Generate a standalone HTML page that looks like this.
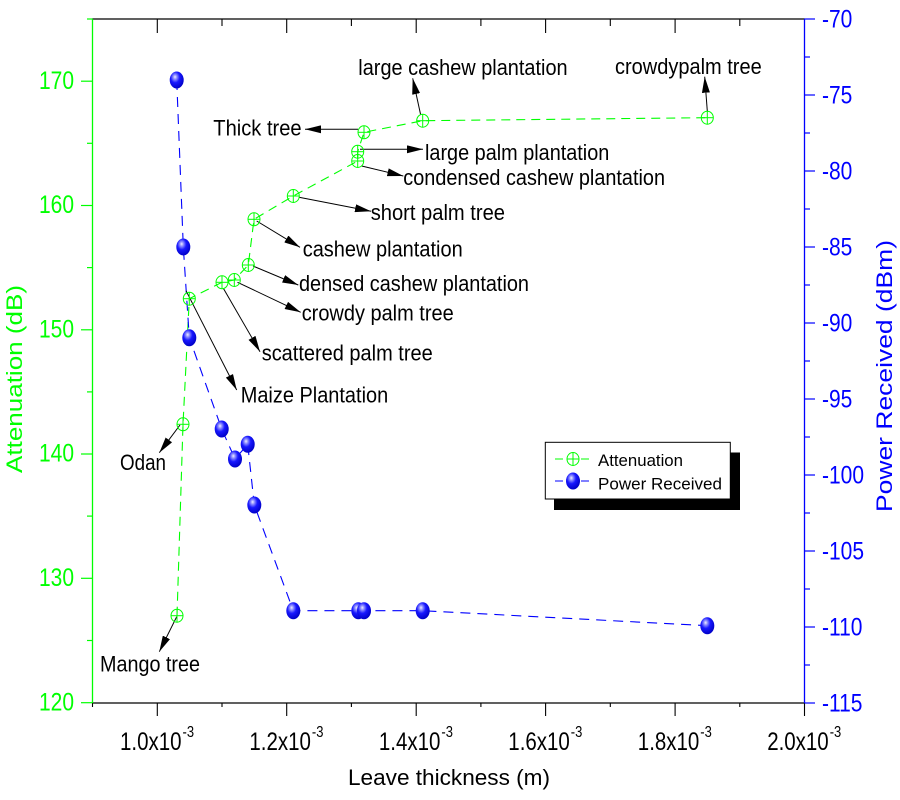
<!DOCTYPE html>
<html>
<head>
<meta charset="utf-8">
<style>
html,body{margin:0;padding:0;background:#fff;}
svg{display:block;}
text{font-family:"Liberation Sans",Arial,sans-serif;}
</style>
</head>
<body>
<svg width="900" height="800" viewBox="0 0 900 800" xmlns="http://www.w3.org/2000/svg">
<defs>
  <marker id="ah" viewBox="0 0 16 8" refX="16" refY="4" markerWidth="16" markerHeight="8" markerUnits="userSpaceOnUse" orient="auto">
    <path d="M0,0 L16,4 L0,8 z" fill="#000"/>
  </marker>
  <radialGradient id="sph" cx="0.4" cy="0.35" r="0.65" fx="0.38" fy="0.32">
    <stop offset="0" stop-color="#f0f0ff"/>
    <stop offset="0.2" stop-color="#9090ff"/>
    <stop offset="0.5" stop-color="#1818ff"/>
    <stop offset="1" stop-color="#0000c8"/>
  </radialGradient>
  <g id="att">
    <ellipse cx="0" cy="0" rx="6" ry="6.5" fill="none" stroke="#00ff00" stroke-width="1"/>
    <line x1="-6" y1="0" x2="6" y2="0" stroke="#00ff00" stroke-width="1"/>
    <line x1="0" y1="-6.5" x2="0" y2="6.5" stroke="#00ff00" stroke-width="1"/>
  </g>
  <g id="pw">
    <ellipse cx="0" cy="0" rx="7" ry="8.5" fill="url(#sph)"/>
  </g>
</defs>

<rect x="0" y="0" width="900" height="800" fill="#fff"/>

<!-- Axes -->
<line x1="92.5" y1="19" x2="804.5" y2="19" stroke="#000" stroke-width="1.2"/>
<line x1="92.5" y1="703" x2="804.5" y2="703" stroke="#000" stroke-width="1.2"/>
<line x1="92.5" y1="19" x2="92.5" y2="703" stroke="#00ff00" stroke-width="1.3"/>
<line x1="804.5" y1="19" x2="804.5" y2="703" stroke="#0000ff" stroke-width="1.3"/>

<!-- X ticks bottom & top -->
<g stroke="#000" stroke-width="1.1">
  <line x1="92.5" y1="703" x2="92.5" y2="707"/>
  <line x1="157.3" y1="703" x2="157.3" y2="716"/>
  <line x1="222" y1="703" x2="222" y2="707"/>
  <line x1="286.7" y1="703" x2="286.7" y2="716"/>
  <line x1="351.4" y1="703" x2="351.4" y2="707"/>
  <line x1="416.2" y1="703" x2="416.2" y2="716"/>
  <line x1="480.9" y1="703" x2="480.9" y2="707"/>
  <line x1="545.6" y1="703" x2="545.6" y2="716"/>
  <line x1="610.3" y1="703" x2="610.3" y2="707"/>
  <line x1="675.1" y1="703" x2="675.1" y2="716"/>
  <line x1="739.8" y1="703" x2="739.8" y2="707"/>
  <line x1="804.5" y1="703" x2="804.5" y2="716"/>

  <line x1="157.3" y1="19" x2="157.3" y2="33"/>
  <line x1="222" y1="19" x2="222" y2="26"/>
  <line x1="286.7" y1="19" x2="286.7" y2="33"/>
  <line x1="351.4" y1="19" x2="351.4" y2="26"/>
  <line x1="416.2" y1="19" x2="416.2" y2="33"/>
  <line x1="480.9" y1="19" x2="480.9" y2="26"/>
  <line x1="545.6" y1="19" x2="545.6" y2="33"/>
  <line x1="610.3" y1="19" x2="610.3" y2="26"/>
  <line x1="675.1" y1="19" x2="675.1" y2="33"/>
  <line x1="739.8" y1="19" x2="739.8" y2="26"/>
</g>

<!-- Left ticks -->
<g stroke="#00ff00" stroke-width="1.2">
  <line x1="81" y1="702.7" x2="92.5" y2="702.7"/>
  <line x1="87" y1="640.5" x2="92.5" y2="640.5"/>
  <line x1="81" y1="578.3" x2="92.5" y2="578.3"/>
  <line x1="87" y1="516.1" x2="92.5" y2="516.1"/>
  <line x1="81" y1="454" x2="92.5" y2="454"/>
  <line x1="87" y1="391.9" x2="92.5" y2="391.9"/>
  <line x1="81" y1="329.8" x2="92.5" y2="329.8"/>
  <line x1="87" y1="267.6" x2="92.5" y2="267.6"/>
  <line x1="81" y1="205.5" x2="92.5" y2="205.5"/>
  <line x1="87" y1="143.3" x2="92.5" y2="143.3"/>
  <line x1="81" y1="81.2" x2="92.5" y2="81.2"/>
  <line x1="87" y1="19" x2="92.5" y2="19"/>
</g>

<!-- Right ticks -->
<g stroke="#0000ff" stroke-width="1.2">
  <line x1="804.5" y1="19" x2="815" y2="19"/>
  <line x1="804.5" y1="57" x2="810" y2="57"/>
  <line x1="804.5" y1="95" x2="815" y2="95"/>
  <line x1="804.5" y1="133" x2="810" y2="133"/>
  <line x1="804.5" y1="171" x2="815" y2="171"/>
  <line x1="804.5" y1="209" x2="810" y2="209"/>
  <line x1="804.5" y1="247" x2="815" y2="247"/>
  <line x1="804.5" y1="285" x2="810" y2="285"/>
  <line x1="804.5" y1="323" x2="815" y2="323"/>
  <line x1="804.5" y1="361" x2="810" y2="361"/>
  <line x1="804.5" y1="399" x2="815" y2="399"/>
  <line x1="804.5" y1="437" x2="810" y2="437"/>
  <line x1="804.5" y1="475" x2="815" y2="475"/>
  <line x1="804.5" y1="513" x2="810" y2="513"/>
  <line x1="804.5" y1="551" x2="815" y2="551"/>
  <line x1="804.5" y1="589" x2="810" y2="589"/>
  <line x1="804.5" y1="627" x2="815" y2="627"/>
  <line x1="804.5" y1="665" x2="810" y2="665"/>
  <line x1="804.5" y1="703" x2="815" y2="703"/>
</g>

<!-- Left tick labels -->
<g fill="#00ff00" font-size="21" text-anchor="end">
  <text transform="translate(74,710.3) scale(1,1.2)">120</text>
  <text transform="translate(74,585.9) scale(1,1.2)">130</text>
  <text transform="translate(74,461.6) scale(1,1.2)">140</text>
  <text transform="translate(74,337.4) scale(1,1.2)">150</text>
  <text transform="translate(74,213.1) scale(1,1.2)">160</text>
  <text transform="translate(74,88.8) scale(1,1.2)">170</text>
</g>

<!-- Right tick labels -->
<g fill="#0000ff" font-size="21">
  <text transform="translate(822,27.5) scale(1,1.2)">-70</text>
  <text transform="translate(822,103.5) scale(1,1.2)">-75</text>
  <text transform="translate(822,179.5) scale(1,1.2)">-80</text>
  <text transform="translate(822,255.5) scale(1,1.2)">-85</text>
  <text transform="translate(822,331.5) scale(1,1.2)">-90</text>
  <text transform="translate(822,407.5) scale(1,1.2)">-95</text>
  <text transform="translate(822,483.5) scale(1,1.2)">-100</text>
  <text transform="translate(822,559.5) scale(1,1.2)">-105</text>
  <text transform="translate(822,635.5) scale(1,1.2)">-110</text>
  <text transform="translate(822,711.5) scale(1,1.2)">-115</text>
</g>

<!-- Bottom tick labels -->
<g fill="#000" font-size="20.5">
  <text transform="translate(120,750) scale(1,1.2)">1.0x10<tspan font-size="13" dy="-10.8" dx="1">-3</tspan></text>
  <text transform="translate(249.4,750) scale(1,1.2)">1.2x10<tspan font-size="13" dy="-10.8" dx="1">-3</tspan></text>
  <text transform="translate(378.9,750) scale(1,1.2)">1.4x10<tspan font-size="13" dy="-10.8" dx="1">-3</tspan></text>
  <text transform="translate(508.3,750) scale(1,1.2)">1.6x10<tspan font-size="13" dy="-10.8" dx="1">-3</tspan></text>
  <text transform="translate(637.8,750) scale(1,1.2)">1.8x10<tspan font-size="13" dy="-10.8" dx="1">-3</tspan></text>
  <text transform="translate(767.2,750) scale(1,1.2)">2.0x10<tspan font-size="13" dy="-10.8" dx="1">-3</tspan></text>
</g>

<!-- Axis titles -->
<text x="348" y="785" font-size="22.5" fill="#000" textLength="202" lengthAdjust="spacingAndGlyphs">Leave thickness (m)</text>
<text transform="translate(22,379) rotate(-90)" font-size="22" fill="#00ff00" text-anchor="middle" textLength="188" lengthAdjust="spacingAndGlyphs">Attenuation (dB)</text>
<text transform="translate(892,376) rotate(-90)" font-size="22" fill="#0000ff" text-anchor="middle" textLength="272" lengthAdjust="spacingAndGlyphs">Power Received (dBm)</text>

<!-- Series lines -->
<polyline fill="none" stroke="#00ff00" stroke-width="1.1" stroke-dasharray="9,6"
  points="177,615.7 183,424.3 189.3,298.7 222,282.3 234.3,280 248.3,265 254,219.3 293.3,196 357.7,161 357.7,151.7 364,132.3 422.7,120.7 707.3,117.7"/>
<polyline fill="none" stroke="#0000ff" stroke-width="1.1" stroke-dasharray="10,7"
  points="176.7,80 183.3,247 189.3,337.7 221.7,429 235,459 247.7,444.3 254.3,505 293.3,610.7 358.3,610.7 364,610.7 422.7,610.7 707.3,625.7"/>

<!-- Arrows -->
<g stroke="#000" stroke-width="1" marker-end="url(#ah)">
  <line x1="358" y1="129.3" x2="305" y2="129.3"/>
  <line x1="360" y1="149.3" x2="423" y2="149.3"/>
  <line x1="361.7" y1="166" x2="403.3" y2="176"/>
  <line x1="299" y1="197.3" x2="371" y2="211.3"/>
  <line x1="256.7" y1="221" x2="300" y2="247.3"/>
  <line x1="253" y1="266" x2="298.3" y2="285"/>
  <line x1="237.5" y1="282.3" x2="300.7" y2="312.3"/>
  <line x1="223.3" y1="288.3" x2="260" y2="351.7"/>
  <line x1="186" y1="290.7" x2="236.7" y2="390"/>
  <line x1="180" y1="425" x2="159.3" y2="452.7"/>
  <line x1="176.7" y1="616.7" x2="159.3" y2="651.7"/>
  <line x1="420.7" y1="115" x2="412.7" y2="78.3"/>
  <line x1="707.3" y1="111" x2="704.7" y2="76.7"/>
</g>

<!-- Attenuation markers -->
<use href="#att" x="177" y="615.7"/>
<use href="#att" x="183" y="424.3"/>
<use href="#att" x="189.3" y="298.7"/>
<use href="#att" x="222" y="282.3"/>
<use href="#att" x="234.3" y="280"/>
<use href="#att" x="248.3" y="265"/>
<use href="#att" x="254" y="219.3"/>
<use href="#att" x="293.3" y="196"/>
<use href="#att" x="357.7" y="161"/>
<use href="#att" x="357.7" y="151.7"/>
<use href="#att" x="364" y="132.3"/>
<use href="#att" x="422.7" y="120.7"/>
<use href="#att" x="707.3" y="117.7"/>

<!-- Power markers -->
<use href="#pw" x="176.7" y="80"/>
<use href="#pw" x="183.3" y="247"/>
<use href="#pw" x="189.3" y="337.7"/>
<use href="#pw" x="221.7" y="429"/>
<use href="#pw" x="247.7" y="444.3"/>
<use href="#pw" x="235" y="459"/>
<use href="#pw" x="254.3" y="505"/>
<use href="#pw" x="293.3" y="610.7"/>
<use href="#pw" x="358.3" y="610.7"/>
<use href="#pw" x="364" y="610.7"/>
<use href="#pw" x="422.7" y="610.7"/>
<use href="#pw" x="707.3" y="625.7"/>

<!-- Annotations -->
<g fill="#000" font-size="20">
  <text transform="translate(213.3,135.7) scale(1,1.13)" textLength="88.3" lengthAdjust="spacingAndGlyphs">Thick tree</text>
  <text transform="translate(358.3,75) scale(1,1.13)" textLength="209.3" lengthAdjust="spacingAndGlyphs">large cashew plantation</text>
  <text transform="translate(615,74) scale(1,1.13)" textLength="146.7" lengthAdjust="spacingAndGlyphs">crowdypalm tree</text>
  <text transform="translate(425,160) scale(1,1.13)" textLength="184.3" lengthAdjust="spacingAndGlyphs">large palm plantation</text>
  <text transform="translate(403.3,185) scale(1,1.13)" textLength="261.7" lengthAdjust="spacingAndGlyphs">condensed cashew plantation</text>
  <text transform="translate(370.7,220) scale(1,1.13)" textLength="134.3" lengthAdjust="spacingAndGlyphs">short palm tree</text>
  <text transform="translate(302.7,256.7) scale(1,1.13)" textLength="160" lengthAdjust="spacingAndGlyphs">cashew plantation</text>
  <text transform="translate(299,291) scale(1,1.13)" textLength="230" lengthAdjust="spacingAndGlyphs">densed cashew plantation</text>
  <text transform="translate(301.7,320.7) scale(1,1.13)" textLength="152" lengthAdjust="spacingAndGlyphs">crowdy palm tree</text>
  <text transform="translate(261.7,360.7) scale(1,1.13)" textLength="171" lengthAdjust="spacingAndGlyphs">scattered palm tree</text>
  <text transform="translate(240.7,402.3) scale(1,1.13)" textLength="147.5" lengthAdjust="spacingAndGlyphs">Maize Plantation</text>
  <text transform="translate(120,470) scale(1,1.13)" textLength="46" lengthAdjust="spacingAndGlyphs">Odan</text>
  <text transform="translate(100,671.7) scale(1,1.13)" textLength="100" lengthAdjust="spacingAndGlyphs">Mango tree</text>
</g>

<!-- Legend -->
<rect x="554" y="452.5" width="186" height="57.5" fill="#000"/>
<rect x="545.3" y="442.3" width="185" height="56.7" fill="#fff" stroke="#000" stroke-width="1"/>
<line x1="555" y1="459" x2="563" y2="459" stroke="#00ff00" stroke-width="1"/>
<line x1="581" y1="459" x2="589" y2="459" stroke="#00ff00" stroke-width="1"/>
<use href="#att" x="573" y="459"/>
<line x1="555" y1="481" x2="563" y2="481" stroke="#0000ff" stroke-width="1"/>
<line x1="581" y1="481" x2="589" y2="481" stroke="#0000ff" stroke-width="1"/>
<use href="#pw" x="573" y="481"/>
<text x="598" y="466" font-size="17" fill="#000" textLength="85" lengthAdjust="spacingAndGlyphs">Attenuation</text>
<text x="598" y="489.5" font-size="17" fill="#000" textLength="124" lengthAdjust="spacingAndGlyphs">Power Received</text>
</svg>
</body>
</html>
